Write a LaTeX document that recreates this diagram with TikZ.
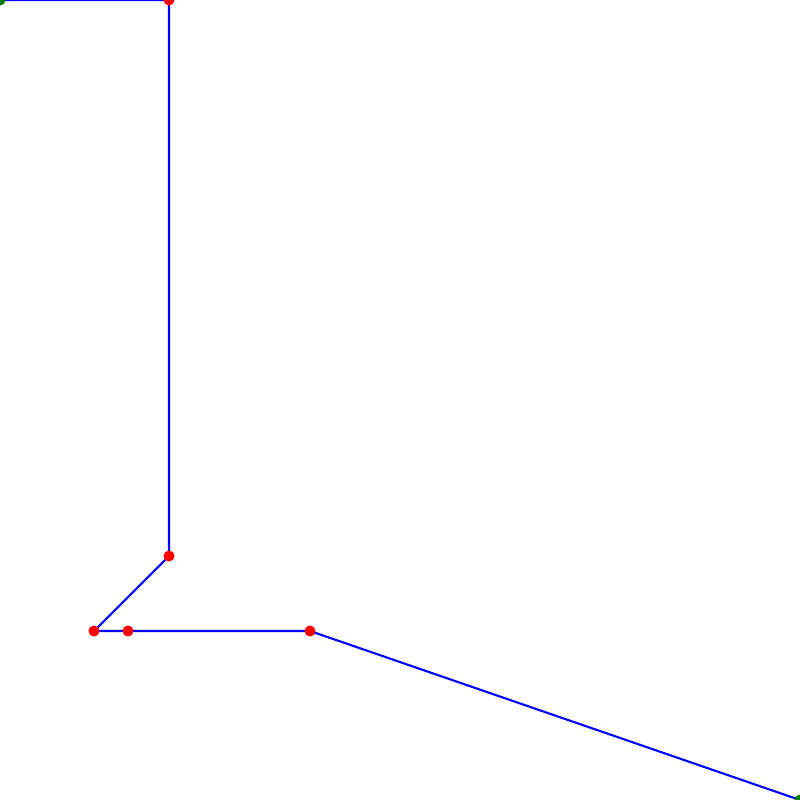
\documentclass[tikz,border=0pt]{standalone}
\begin{document}
\begin{tikzpicture}[x=0.01cm,y=-0.01cm,
  seg/.style={blue,line width=0.6pt},
  rdot/.style={circle,fill=red,inner sep=0pt,minimum size=0.11cm},
  gdot/.style={circle,fill=green!50!black,inner sep=0pt,minimum size=0.11cm}]
\useasboundingbox (0,0) rectangle (800,800);
\clip (0,0) rectangle (800,800);
\coordinate (a) at (0,0);
\coordinate (b) at (169,0);
\coordinate (c) at (169,556);
\coordinate (d) at (94,631);
\coordinate (e) at (128,631);
\coordinate (f) at (310,631);
\coordinate (g) at (800,800);
\draw[seg] (a) -- (b) -- (c) -- (d) -- (e) -- (f) -- (g);
\node[gdot] (na) at (a) {};
\node[rdot] (nb) at (b) {};
\node[rdot] (nc) at (c) {};
\node[rdot] (nd) at (d) {};
\node[rdot] (ne) at (e) {};
\node[rdot] (nf) at (f) {};
\node[gdot] (ng) at (g) {};
\end{tikzpicture}
\end{document}
